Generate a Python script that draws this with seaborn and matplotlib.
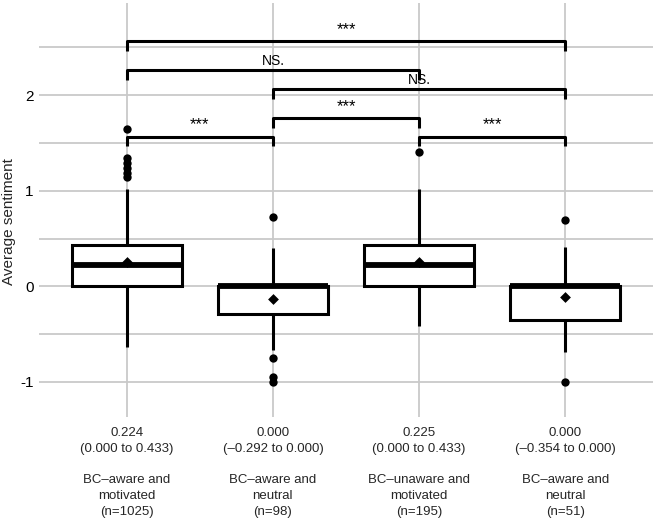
import matplotlib
matplotlib.use("Agg")
import matplotlib.pyplot as plt
from matplotlib.ticker import MultipleLocator, FixedLocator
import seaborn as sns
import pandas as pd

# ---------------- data ----------------
group_ids = ["G1", "G2", "G3", "G4"]
group_names = ["BC\u2013aware and\nmotivated", "BC\u2013aware and\nneutral",
               "BC\u2013unaware and\nmotivated", "BC\u2013aware and\nneutral"]
group_n = [1025, 98, 195, 51]

# box summaries
whis_lo = [-0.63, -0.67, -0.41, -0.69]
q1 = [0.000, -0.292, 0.000, -0.354]
median = [0.224, 0.000, 0.225, 0.000]
q3 = [0.433, 0.000, 0.433, 0.000]
whis_hi = [1.02, 0.40, 1.02, 0.41]
means = [0.25, -0.13, 0.25, -0.115]

outliers_g1 = [1.65, 1.34, 1.29, 1.24, 1.19, 1.14]
outliers_g2 = [0.72, -0.75, -0.95, -1.0]
outliers_g3 = [1.40]
outliers_g4 = [0.69, -1.0]

# significance brackets
sig_pairs = [(0, 1), (2, 3), (1, 2), (1, 3), (0, 2), (0, 3)]
sig_heights = [1.565, 1.565, 1.76, 2.06, 2.26, 2.56]
sig_labels = ["***", "***", "***", "NS.", "NS.", "***"]

y_ticks = [-1, 0, 1, 2]
y_ticklabels = ["-1", "0", "1", "2"]

# ---------------- tables ----------------
box_rows = []
for g, a, b, c, d, e in zip(group_ids, whis_lo, q1, median, q3, whis_hi):
    for v in (a, b, c, d, e):
        box_rows.append({"group": g, "value": v})
box_df = pd.DataFrame(box_rows)

out_rows = []
for g, vals in zip(group_ids, [outliers_g1, outliers_g2, outliers_g3, outliers_g4]):
    for v in vals:
        out_rows.append({"group": g, "value": v})
out_df = pd.DataFrame(out_rows)

mean_df = pd.DataFrame({"group": group_ids, "value": means})

def fmt(v):
    return f"{v:.3f}".replace("-", "\u2013")

xlabels = [f"{fmt(m)}\n({fmt(lo)} to {fmt(hi)})\n\n{name}\n(n={n})"
           for m, lo, hi, name, n in zip(median, q1, q3, group_names, group_n)]

# ---------------- plot ----------------
sns.set_theme(style="white")
plt.rcParams["font.family"] = ["Liberation Sans", "DejaVu Sans"]
plt.rcParams["axes.unicode_minus"] = False

fig = plt.figure(figsize=(6.55, 5.21), dpi=100)
ax = fig.add_axes([0.0595, 0.1996, 0.9375, 0.7946])

sns.boxplot(data=box_df, x="group", y="value", order=group_ids, ax=ax,
            whis=(0, 100), showfliers=False, showcaps=False, width=0.75,
            color="white", linecolor="black", linewidth=2.2,
            medianprops=dict(linewidth=4.2, color="black"), zorder=3)
sns.stripplot(data=out_df, x="group", y="value", order=group_ids, ax=ax,
              jitter=False, color="black", size=6, zorder=4)
sns.stripplot(data=mean_df, x="group", y="value", order=group_ids, ax=ax,
              jitter=False, color="black", size=5.5, marker="D", zorder=5)

# brackets
tick = 0.1
for (i, j), h, lab in zip(sig_pairs, sig_heights, sig_labels):
    ax.plot([i, i, j, j], [h - tick, h, h, h - tick], color="black",
            lw=2.2, solid_capstyle="butt", zorder=6, clip_on=False)
    if lab == "NS.":
        ax.text((i + j) / 2, h + 0.02, lab, ha="center", va="bottom",
                fontsize=10, color="black", zorder=7)
    else:
        ax.text((i + j) / 2, h + 0.045, lab, ha="center", va="bottom",
                fontsize=12, color="black", zorder=7)

ax.set_xlim(-0.6, 3.6)
ax.set_ylim(-1.366, 2.962)
ax.yaxis.set_major_locator(FixedLocator(y_ticks))
ax.set_yticklabels(y_ticklabels, fontsize=11)
ax.yaxis.set_minor_locator(MultipleLocator(0.5))
ax.grid(True, which="major", axis="both", color="#c9c9c9", lw=1.3, zorder=0)
ax.grid(True, which="minor", axis="y", color="#c9c9c9", lw=1.3, zorder=0)
ax.set_axisbelow(True)
ax.tick_params(axis="y", which="major", length=3, width=1, color="#444444",
               pad=1, labelcolor="black")
ax.tick_params(axis="y", which="minor", length=0)
ax.tick_params(axis="x", length=0, pad=7)
ax.set_xticks(range(len(group_ids)))
ax.set_xticklabels(xlabels, fontsize=9.5, linespacing=1.43, va="top",
                   multialignment="center")
for s in ax.spines.values():
    s.set_visible(False)
ax.set_xlabel("")
ax.set_ylabel("Average sentiment", fontsize=11)
ax.yaxis.set_label_coords(-0.037, 0.473)

fig.savefig("out.png", dpi=100)
